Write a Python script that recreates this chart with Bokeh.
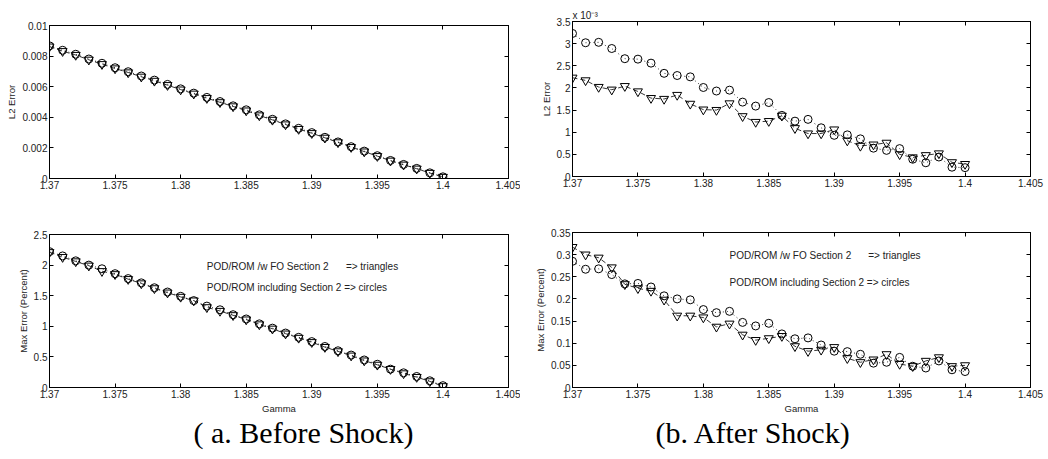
from bokeh.plotting import figure
from bokeh.layouts import row, column
from bokeh.models import (LinearAxis, FixedTicker, CustomJSTickFormatter, Label,
                          Title, CustomLabelingPolicy)
from bokeh.embed import file_html
from bokeh.resources import INLINE

# Gamma values shared by every panel
gamma = [1.370, 1.371, 1.372, 1.373, 1.374, 1.375, 1.376, 1.377, 1.378, 1.379,
         1.380, 1.381, 1.382, 1.383, 1.384, 1.385, 1.386, 1.387, 1.388, 1.389,
         1.390, 1.391, 1.392, 1.393, 1.394, 1.395, 1.396, 1.397, 1.398, 1.399,
         1.400]

# (a) before shock, L2 error
before_l2_circ = [0.00867, 0.00838, 0.00812, 0.00781, 0.00753, 0.00724, 0.00698, 0.00670,
                  0.00643, 0.00615, 0.00586, 0.00558, 0.00530, 0.00503, 0.00475, 0.00449,
                  0.00416, 0.00387, 0.00357, 0.00328, 0.00300, 0.00269, 0.00239, 0.00208,
                  0.00179, 0.00149, 0.00118, 0.00092, 0.00066, 0.00037, 0.00011]
before_l2_tri = [0.00862, 0.00832, 0.00807, 0.00776, 0.00747, 0.00719, 0.00693, 0.00665,
                 0.00638, 0.00610, 0.00581, 0.00554, 0.00525, 0.00498, 0.00471, 0.00444,
                 0.00412, 0.00383, 0.00353, 0.00323, 0.00296, 0.00266, 0.00236, 0.00205,
                 0.00176, 0.00146, 0.00116, 0.00090, 0.00064, 0.00036, 0.00010]

# (a) before shock, max error (percent)
before_max_circ = [2.22, 2.15, 2.07, 2.00, 1.94, 1.86, 1.78, 1.71, 1.63, 1.56,
                   1.49, 1.42, 1.33, 1.27, 1.19, 1.12, 1.04, 0.97, 0.89, 0.82,
                   0.75, 0.67, 0.60, 0.53, 0.45, 0.38, 0.30, 0.24, 0.18, 0.11, 0.03]
before_max_tri = [2.21, 2.13, 2.06, 1.99, 1.90, 1.85, 1.77, 1.70, 1.62, 1.55,
                  1.48, 1.42, 1.31, 1.25, 1.18, 1.11, 1.03, 0.96, 0.88, 0.81,
                  0.74, 0.66, 0.59, 0.52, 0.44, 0.37, 0.30, 0.23, 0.17, 0.10, 0.02]

# (b) after shock, L2 error
after_l2_circ = [3.23e-3, 3.02e-3, 3.03e-3, 2.89e-3, 2.66e-3, 2.65e-3, 2.56e-3, 2.33e-3,
                 2.28e-3, 2.25e-3, 2.01e-3, 1.93e-3, 1.95e-3, 1.68e-3, 1.59e-3, 1.67e-3,
                 1.38e-3, 1.25e-3, 1.29e-3, 1.10e-3, 0.93e-3, 0.94e-3, 0.85e-3, 0.64e-3,
                 0.59e-3, 0.63e-3, 0.39e-3, 0.31e-3, 0.44e-3, 0.21e-3, 0.20e-3]
after_l2_tri = [2.23e-3, 2.17e-3, 2.02e-3, 1.96e-3, 2.04e-3, 1.92e-3, 1.77e-3, 1.75e-3,
                1.84e-3, 1.64e-3, 1.51e-3, 1.50e-3, 1.65e-3, 1.36e-3, 1.23e-3, 1.25e-3,
                1.37e-3, 1.09e-3, 0.97e-3, 0.97e-3, 1.06e-3, 0.81e-3, 0.69e-3, 0.72e-3,
                0.76e-3, 0.50e-3, 0.43e-3, 0.48e-3, 0.52e-3, 0.32e-3, 0.28e-3]

# (b) after shock, max error (percent)
after_max_circ = [0.285, 0.267, 0.268, 0.255, 0.234, 0.235, 0.227, 0.207, 0.200, 0.198,
                  0.176, 0.169, 0.172, 0.147, 0.139, 0.145, 0.121, 0.110, 0.112, 0.096,
                  0.082, 0.081, 0.075, 0.055, 0.057, 0.068, 0.048, 0.044, 0.060, 0.040,
                  0.036]
after_max_tri = [0.317, 0.300, 0.293, 0.271, 0.233, 0.224, 0.218, 0.198, 0.162, 0.162,
                 0.158, 0.137, 0.144, 0.119, 0.107, 0.111, 0.116, 0.093, 0.082, 0.085,
                 0.091, 0.066, 0.057, 0.063, 0.075, 0.053, 0.048, 0.060, 0.068, 0.048,
                 0.050]

x_ticks = [1.37, 1.375, 1.38, 1.385, 1.39, 1.395, 1.4, 1.405]
y_ticks_before_l2 = [0, 0.002, 0.004, 0.006, 0.008, 0.01]
y_ticks_before_max = [0, 0.5, 1, 1.5, 2, 2.5]
y_ticks_after_l2 = [0, 0.0005, 0.001, 0.0015, 0.002, 0.0025, 0.003, 0.0035]
y_ticks_after_max = [0, 0.05, 0.1, 0.15, 0.2, 0.25, 0.3, 0.35]

legend_tri = "POD/ROM /w FO Section 2"
legend_tri_tail = "=> triangles"
legend_circ = "POD/ROM including Section 2 => circles"

SANS = "Liberation Sans"
SERIF = "Liberation Serif"

plain_fmt = CustomJSTickFormatter(code="return String(parseFloat(tick.toFixed(6)));")
milli_fmt = CustomJSTickFormatter(code="return String(parseFloat((tick*1000).toFixed(4)));")
# mirror axes on the top/right carry ticks only, no labels
no_labels = CustomLabelingPolicy(
    code="const all = Array.from(indices); for (const i of all) { indices.unset(i) } return indices;")


def style_axis(ax, ticks, fmt, show_labels=True):
    ax.ticker = FixedTicker(ticks=ticks)
    ax.formatter = fmt
    ax.major_tick_in = 4
    ax.major_tick_out = 0
    ax.minor_tick_line_color = None
    ax.axis_line_color = "black"
    ax.axis_line_width = 1
    ax.major_tick_line_color = "black"
    ax.major_label_text_font = SANS
    ax.major_label_text_color = "#222222"
    ax.axis_label_text_font = SANS
    ax.axis_label_text_font_style = "normal"
    ax.axis_label_text_font_size = "9.5px"
    ax.axis_label_text_color = "#222222"
    ax.axis_label_standoff = 2
    if show_labels:
        ax.major_label_text_font_size = "10px"
        ax.major_label_standoff = 2
    else:
        ax.major_label_text_font_size = "0px"
        ax.major_label_policy = no_labels
        ax.major_label_standoff = 0


def make_panel(frame_w, frame_h, borders, y_range, yticks, yfmt, ylabel, xlabel,
               circ, tri):
    left, right, top, bottom = borders
    p = figure(frame_width=frame_w, frame_height=frame_h,
               x_range=(1.37, 1.405), y_range=y_range,
               output_backend="svg", toolbar_location=None,
               min_border_left=left, min_border_right=right,
               min_border_top=top, min_border_bottom=bottom,
               x_axis_type=None, y_axis_type=None)
    p.background_fill_color = "white"
    p.border_fill_color = "white"
    p.outline_line_color = "black"
    p.outline_line_width = 1
    p.xgrid.visible = False
    p.ygrid.visible = False

    xb = LinearAxis(axis_label=xlabel)
    style_axis(xb, x_ticks, plain_fmt)
    p.add_layout(xb, "below")
    xa = LinearAxis()
    style_axis(xa, x_ticks, plain_fmt, show_labels=False)
    p.add_layout(xa, "above")
    yl = LinearAxis(axis_label=ylabel)
    style_axis(yl, yticks, yfmt)
    p.add_layout(yl, "left")
    yr = LinearAxis()
    style_axis(yr, yticks, yfmt, show_labels=False)
    p.add_layout(yr, "right")

    # triangles: dashed connecting line, circles: dotted connecting line
    p.line(gamma, tri, line_color="black", line_width=0.8, line_dash="5 3")
    p.line(gamma, circ, line_color="black", line_width=0.8, line_dash="1 3")
    p.scatter(gamma, circ, marker="circle", size=8, fill_color=None,
              line_color="black", line_width=1)
    p.scatter(gamma, tri, marker="inverted_triangle", size=9, fill_color=None,
              line_color="black", line_width=1)
    return p


def add_legend_text(p, y1, y2):
    for txt, x, y in [(legend_tri, 1.3820, y1), (legend_tri_tail, 1.3926, y1),
                      (legend_circ, 1.3820, y2)]:
        p.add_layout(Label(x=x, y=y, text=txt, text_font=SANS, text_font_size="10px",
                           text_color="#222222", text_baseline="middle",
                           text_align="left"))


def add_caption(p, offset, text):
    p.add_layout(Title(text=text, align="left", offset=offset, standoff=-5,
                       text_font=SERIF, text_font_size="30px",
                       text_font_style="normal", text_color="black"), "below")


a_top = make_panel(459, 153, (49, 12, 25, 22), (0, 0.01), y_ticks_before_l2,
                   plain_fmt, "L2 Error", None, before_l2_circ, before_l2_tri)
a_bot = make_panel(459, 153, (49, 12, 34, 72), (0, 2.5), y_ticks_before_max,
                   plain_fmt, "Max Error (Percent)", "Gamma",
                   before_max_circ, before_max_tri)
add_legend_text(a_bot, 1.98, 1.63)
add_caption(a_bot, 144, "( a.  Before Shock)")

b_top = make_panel(458, 155, (52, 18, 21, 24), (0, 0.0035), y_ticks_after_l2,
                   milli_fmt, "L2 Error", None, after_l2_circ, after_l2_tri)
b_top.add_layout(Title(text="x 10\u207b\u00b3", align="left", offset=0, standoff=1,
                       text_font=SANS, text_font_size="10px",
                       text_font_style="normal", text_color="#222222"), "above")
b_bot = make_panel(458, 155, (52, 18, 32, 72), (0, 0.35), y_ticks_after_max,
                   plain_fmt, "Max Error (Percent)", "Gamma",
                   after_max_circ, after_max_tri)
add_legend_text(b_bot, 0.298, 0.237)
add_caption(b_bot, 83, "(b.  After Shock)")

layout = row(column(a_top, a_bot), column(b_top, b_bot))

with open("out.html", "w") as f:
    f.write(file_html(layout, INLINE))
